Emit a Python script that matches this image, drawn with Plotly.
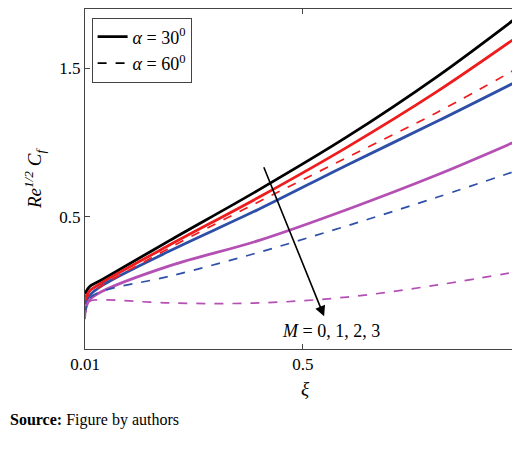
import plotly.graph_objects as go

xi = [0.01, 0.02, 0.05, 0.2, 0.4, 0.6, 0.8, 1.0]

# alpha = 30 (solid), M = 0..3
m0_30 = [-0.02, 0.03, 0.08, 0.34, 0.68, 1.04, 1.44, 1.885]
m1_30 = [-0.05, 0.00, 0.06, 0.31, 0.63, 0.97, 1.34, 1.75]
m2_30 = [-0.09, -0.03, 0.04, 0.27, 0.55, 0.85, 1.14, 1.44]
m3_30 = [-0.14, -0.06, 0.00, 0.17, 0.34, 0.55, 0.78, 1.035]
# alpha = 60 (dashed)
m1_60 = [-0.07, -0.02, 0.04, 0.29, 0.60, 0.90, 1.20, 1.53]
m2_60 = [-0.16, -0.05, 0.00, 0.10, 0.26, 0.44, 0.63, 0.83]
m3_60 = [-0.19, -0.07, -0.06, -0.08, -0.08, -0.04, 0.04, 0.14]

black, red, blue, mag = "#000000", "#ee1c1c", "#2e4fa8", "#b44fb4"

fig = go.Figure()
for y, c in [(m0_30, black), (m1_30, red), (m2_30, blue), (m3_30, mag)]:
    fig.add_trace(go.Scatter(x=xi, y=y, mode="lines", showlegend=False,
                             line=dict(color=c, width=2.8, shape="spline")))
for y, c in [(m1_60, red), (m2_60, blue), (m3_60, mag)]:
    fig.add_trace(go.Scatter(x=xi, y=y, mode="lines", showlegend=False,
                             line=dict(color=c, width=1.7, dash="dash", shape="spline")))

# legend entries
fig.add_trace(go.Scatter(x=[None], y=[None], mode="lines", name="<i>α</i> = 30<sup>0</sup>",
                         line=dict(color=black, width=2.8)))
fig.add_trace(go.Scatter(x=[None], y=[None], mode="lines", name="<i>α</i> = 60<sup>0</sup>",
                         line=dict(color=black, width=1.7, dash="dash")))

fig.add_annotation(x=0.548, y=-0.17, ax=0.411, ay=0.844, xref="x", yref="y",
                   axref="x", ayref="y", text="", showarrow=True,
                   arrowhead=2, arrowsize=1.3, arrowwidth=1.6, arrowcolor="black")
fig.add_annotation(x=0.564, y=-0.27, xref="x", yref="y", showarrow=False,
                   text="<i>M</i> = 0, 1, 2, 3", font=dict(size=18))
fig.add_annotation(x=0, y=-0.24, xref="paper", yref="paper", xanchor="left",
                   xshift=-77, showarrow=False,
                   text="<b>Source:</b> Figure by authors", font=dict(size=16))

axis = dict(showgrid=False, zeroline=False, mirror="ticks", ticks="inside",
            showline=True, linecolor="#444", linewidth=1, ticklen=5,
            tickfont=dict(size=17), automargin=False)
fig.update_xaxes(**axis, range=[0.01, 1], tickvals=[0.01, 0.5, 1],
                 ticktext=["0.01", "0.5", "1"],
                 title=dict(text="<i>ξ</i>", font=dict(size=19), standoff=8))
fig.update_yaxes(**axis, range=[-0.39, 1.9], tickvals=[0.5, 1.5],
                 title=dict(text="<i>Re</i><sup><i>1/2</i></sup> <i>C<sub>f</sub></i>",
                            font=dict(size=19), standoff=12))
fig.update_layout(
    width=520, height=449,
    margin=dict(l=77, r=3, t=1, b=108, autoexpand=False),
    paper_bgcolor="white", plot_bgcolor="white",
    font=dict(family="Liberation Serif", color="black"),
    legend=dict(x=0.015, y=0.975, xanchor="left", yanchor="top",
                bordercolor="#444", borderwidth=1, bgcolor="white",
                font=dict(size=18), tracegroupgap=0),
)
fig.write_html("out.html")
